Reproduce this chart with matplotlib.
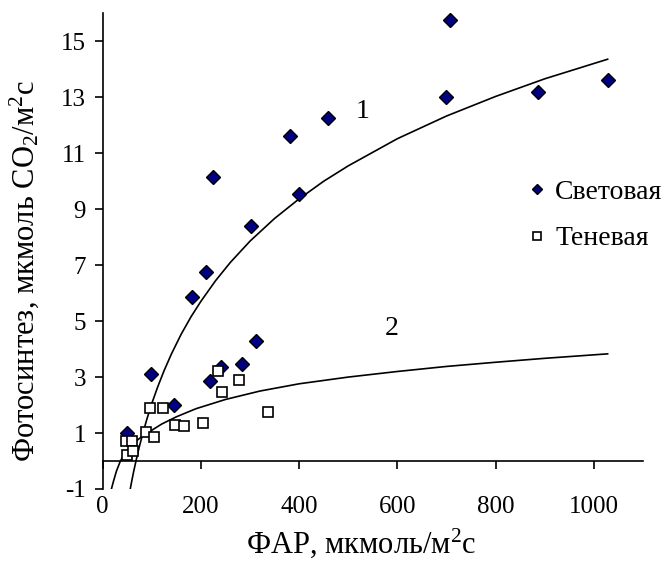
import matplotlib
matplotlib.use('Agg')
import matplotlib.pyplot as plt

plt.rcParams['font.family'] = ['Liberation Serif', 'DejaVu Serif']
plt.rcParams['mathtext.fontset'] = 'custom'
plt.rcParams['mathtext.rm'] = 'Liberation Serif'
plt.rcParams['mathtext.default'] = 'regular'
plt.rcParams['axes.unicode_minus'] = False

# Световая (sun leaves): PAR vs photosynthesis
light_x = [50, 98, 146, 182, 210, 218, 225, 241, 283, 302, 312, 381, 399, 458, 698, 707, 887, 1028]
light_y = [1.0, 3.1, 2.0, 5.85, 6.75, 2.85, 10.15, 3.35, 3.45, 8.4, 4.3, 11.6, 9.55, 12.25, 13.0, 15.75, 13.2, 13.6]

# Теневая (shade leaves)
shade_x = [48, 60, 49, 62, 89, 96, 104, 122, 147, 165, 205, 235, 242, 278, 336]
shade_y = [0.7, 0.7, 0.2, 0.35, 1.05, 1.9, 0.85, 1.9, 1.3, 1.25, 1.35, 3.22, 2.46, 2.9, 1.75]

# curve 1 (light) and curve 2 (shade)
curve1_x = [56, 59, 63, 68, 74, 81, 90, 100, 112, 125, 140, 160, 180, 200, 230, 260, 300, 350,
            400, 450, 500, 600, 700, 800, 900, 1028]
curve1_y = [-1.01, -0.73, -0.38, 0.02, 0.47, 0.94, 1.5, 2.06, 2.65, 3.23, 3.83, 4.54, 5.16, 5.71,
            6.45, 7.1, 7.86, 8.67, 9.37, 10.0, 10.55, 11.52, 12.33, 13.03, 13.66, 14.36]
curve2_x = [17, 22, 28, 36, 46, 56, 66, 80, 100, 120, 150, 190, 250, 320, 400, 500, 600, 700, 800, 900, 1028]
curve2_y = [-1.05, -0.72, -0.36, 0.0, 0.3, 0.5, 0.68, 0.88, 1.1, 1.32, 1.58, 1.87, 2.2, 2.5, 2.76,
            3.0, 3.2, 3.38, 3.53, 3.67, 3.83]

x_ticks = [0, 200, 400, 600, 800, 1000]
y_ticks = [-1, 1, 3, 5, 7, 9, 11, 13, 15]

fs_tick = 18
fs_title = 22
fs_legend = 20

fig = plt.figure(figsize=(6.66, 5.62), dpi=100)
ax = fig.add_axes([0.1542, 0.1299, 0.8113, 0.8464])

ax.plot(curve1_x, curve1_y, color='black', lw=1.2, zorder=2)
ax.plot(curve2_x, curve2_y, color='black', lw=1.2, zorder=2)

ax.plot(light_x, light_y, linestyle='none', marker='D', ms=7, mfc='#000080', mec='black',
        mew=1.0, label='Световая', zorder=3)
ax.plot(shade_x, shade_y, linestyle='none', marker='s', ms=7, mfc='white', mec='black',
        mew=1.2, label='Теневая', zorder=3)

ax.text(530, 12.5, '1', fontsize=20, ha='center', va='center')
ax.text(588, 4.75, '2', fontsize=20, ha='center', va='center')

ax.set_xlim(0, 1100)
ax.set_ylim(-1, 16)

for s in ['top', 'right']:
    ax.spines[s].set_visible(False)
ax.spines['bottom'].set_position(('data', 0))
ax.spines['bottom'].set_linewidth(1.2)
ax.spines['left'].set_linewidth(1.2)

ax.set_xticks(x_ticks)
ax.tick_params(axis='x', direction='out', length=6, width=1.2, labelbottom=False)
ax.set_yticks(y_ticks)
ax.tick_params(axis='y', direction='out', length=6, width=1.2, labelsize=fs_tick, pad=6)

# x tick labels sit below the plot, while the axis line crosses at zero
sec = ax.secondary_xaxis(0)
sec.set_xticks(x_ticks)
sec.spines['bottom'].set_visible(False)
sec.tick_params(length=0, labelsize=fs_tick, pad=5)

ax.set_xlabel('ФАР, мкмоль/м$^2$с', fontsize=fs_title, va='center')
ax.xaxis.set_label_coords(0.479, -0.115)
ax.set_ylabel('Фотосинтез, мкмоль CO$_2$/м$^2$с', fontsize=fs_title)
ax.yaxis.set_label_coords(-0.115, 0.458)

ax.legend(loc='center left', bbox_to_anchor=(0.775, 0.6166), bbox_transform=fig.transFigure,
          frameon=False, fontsize=fs_legend, handlelength=0.5, handletextpad=0.4,
          labelspacing=0.75, markerscale=0.75, borderpad=0)

fig.savefig('out.png', dpi=100)
